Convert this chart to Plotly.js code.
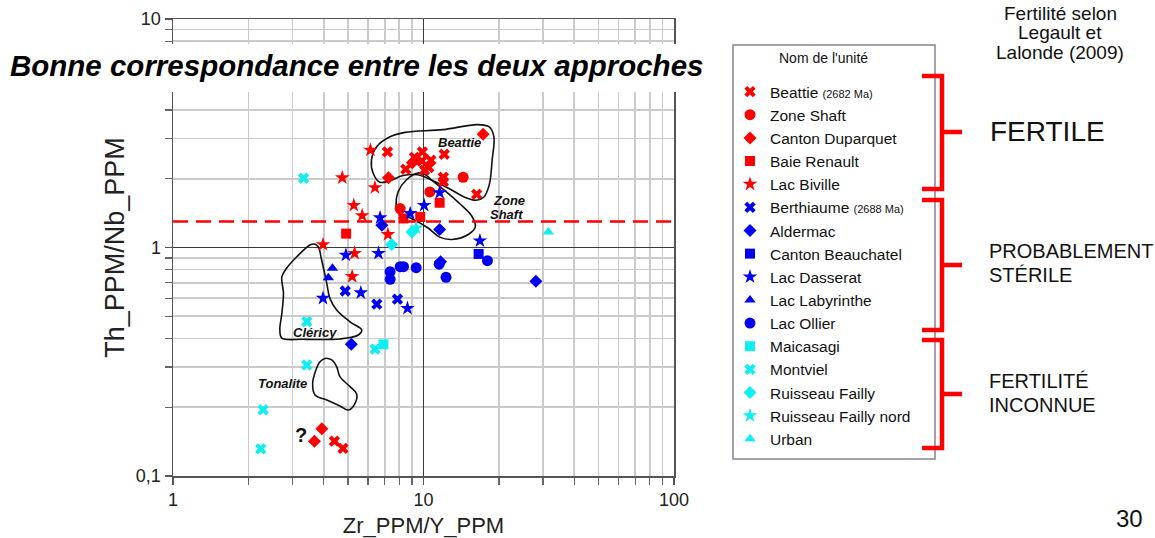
<!DOCTYPE html>
<html>
<head>
<meta charset="utf-8">
<script src="https://cdn.plot.ly/plotly-3.0.1.min.js"></script>
<style>
  html, body { margin: 0; padding: 0; background: #fff; }
  #chart { width: 1155px; height: 538px; }
</style>
</head>
<body>
<div id="chart"></div>
<script>
// Th/Nb versus Zr/Y ratios of intrusive units, grouped by fertility class.

// ---- FERTILE units (red) ----
const beattieX = [7.18, 9.9, 9.2, 10.7, 9.85, 8.5, 10.5, 10.1, 12.1, 12.0, 12.0, 16.3, 4.41, 4.77];
const beattieY = [2.62, 2.62, 2.48, 2.41, 2.39, 2.20, 2.24, 2.18, 2.56, 2.03, 1.94, 1.71, 0.142, 0.132];
const zoneShaftX = [14.4, 10.6, 8.07];
const zoneShaftY = [2.03, 1.75, 1.48];
const cantonDuparquetX = [17.3, 7.25, 9.03, 3.93, 3.67];
const cantonDuparquetY = [3.13, 2.02, 2.35, 0.161, 0.142];
const baieRenaultX = [4.91, 8.32, 9.70, 11.6];
const baieRenaultY = [1.15, 1.34, 1.36, 1.57];
const lacBivilleX = [6.14, 4.74, 6.40, 5.27, 5.69, 7.21, 3.97, 5.31, 5.19];
const lacBivilleY = [2.67, 2.02, 1.83, 1.53, 1.38, 1.14, 1.03, 0.943, 0.747];

// ---- PROBABLEMENT STÉRILE units (blue) ----
const berthiaumeX = [4.87, 6.51, 7.87];
const berthiaumeY = [0.645, 0.565, 0.594];
const aldermacX = [6.82, 11.6, 5.15, 28.1, 11.7];
const aldermacY = [1.25, 1.20, 0.377, 0.711, 0.867];
const cantonBeauchatelX = [16.6];
const cantonBeauchatelY = [0.937];
const lacDasseratX = [6.71, 8.85, 10.06, 11.6, 16.8, 4.90, 6.61, 5.62, 3.97, 8.63];
const lacDasseratY = [1.35, 1.41, 1.53, 1.74, 1.07, 0.927, 0.943, 0.634, 0.600, 0.542];
const lacLabyrintheX = [4.33, 4.17];
const lacLabyrintheY = [0.811, 0.738];
const lacOllierX = [7.36, 7.36, 8.07, 8.32, 9.35, 11.55, 12.3, 18.0];
const lacOllierY = [0.784, 0.726, 0.824, 0.824, 0.816, 0.845, 0.741, 0.876];

// ---- FERTILITÉ INCONNUE units (cyan) ----
const maicasagiX = [6.92];
const maicasagiY = [0.377];
const montvielX = [3.32, 3.42, 3.42, 2.29, 2.24, 6.41];
const montvielY = [2.01, 0.474, 0.306, 0.195, 0.1315, 0.359];
const ruisseauFaillyX = [7.46, 8.99];
const ruisseauFaillyY = [1.03, 1.17];
const ruisseauFaillyNordX = [9.35];
const ruisseauFaillyNordY = [1.22];
const urbanX = [31.5];
const urbanY = [1.17];

// Th/Nb fertility threshold
const thresholdY = 1.3;
const thresholdX = [1, 100];

// Reference field outlines (Zr/Y, Th/Nb vertices)
const beattieFieldX = [6.50, 7.35, 8.44, 11.97, 16.4, 18.3, 19.1, 18.8, 18.3, 17.4, 16.2, 14.6, 12.8, 10.8, 9.51, 8.21, 7.35, 6.70, 6.29, 6.20, 6.50];
const beattieFieldY = [2.76, 3.05, 3.19, 3.28, 3.45, 3.37, 3.05, 2.42, 1.88, 1.66, 1.61, 1.66, 1.80, 1.97, 2.08, 2.06, 1.96, 1.93, 2.12, 2.42, 2.76];
const zoneShaftFieldX = [7.77, 7.91, 8.51, 9.51, 10.2, 10.9, 12.2, 14.0, 15.6, 16.1, 15.2, 13.0, 11.6, 10.4, 8.83, 7.91, 7.77];
const zoneShaftFieldY = [1.53, 1.75, 1.97, 2.12, 2.08, 1.95, 1.77, 1.55, 1.37, 1.23, 1.146, 1.084, 1.11, 1.22, 1.35, 1.42, 1.53];
const clericyFieldX = [3.66, 3.80, 3.92, 4.11, 4.23, 4.50, 5.09, 5.67, 5.49, 4.64, 3.31, 2.72, 2.67, 2.72, 2.76, 2.72, 2.84, 3.12, 3.52, 3.66];
const clericyFieldY = [1.036, 1.008, 0.882, 0.697, 0.599, 0.533, 0.473, 0.4355, 0.414, 0.398, 0.3965, 0.401, 0.4355, 0.515, 0.630, 0.745, 0.811, 0.911, 1.025, 1.036];
const tonaliteFieldX = [4.05, 4.30, 4.50, 4.64, 5.09, 5.41, 5.33, 5.01, 4.64, 4.11, 3.69, 3.61, 3.72, 3.86, 4.05];
const tonaliteFieldY = [0.327, 0.322, 0.301, 0.272, 0.246, 0.2285, 0.208, 0.1945, 0.2025, 0.215, 0.226, 0.2544, 0.291, 0.316, 0.327];

// Axis tick labels
const xTickVals = [1, 10, 100];
const xTickText = ['1', '10', '100'];
const yTickVals = [0.1, 1, 10];
const yTickText = ['0,1', '1', '10'];

const RED = '#ff0000', BLUE = '#0000f0', CYAN = '#10eef2';
const FONT = 'Liberation Sans, Arial, Helvetica, sans-serif';
const small = t => '<span style="font-size:11px">' + t + '</span>';

const units = [
  { name: 'Beattie ' + small('(2682 Ma)'), x: beattieX, y: beattieY, color: RED, symbol: 'x', size: 10 },
  { name: 'Zone Shaft', x: zoneShaftX, y: zoneShaftY, color: RED, symbol: 'circle', size: 11 },
  { name: 'Canton Duparquet', x: cantonDuparquetX, y: cantonDuparquetY, color: RED, symbol: 'diamond', size: 10 },
  { name: 'Baie Renault', x: baieRenaultX, y: baieRenaultY, color: RED, symbol: 'square', size: 10 },
  { name: 'Lac Biville', x: lacBivilleX, y: lacBivilleY, color: RED, symbol: 'star', size: 11 },
  { name: 'Berthiaume ' + small('(2688 Ma)'), x: berthiaumeX, y: berthiaumeY, color: BLUE, symbol: 'x', size: 10 },
  { name: 'Aldermac', x: aldermacX, y: aldermacY, color: BLUE, symbol: 'diamond', size: 10 },
  { name: 'Canton Beauchatel', x: cantonBeauchatelX, y: cantonBeauchatelY, color: BLUE, symbol: 'square', size: 10 },
  { name: 'Lac Dasserat', x: lacDasseratX, y: lacDasseratY, color: BLUE, symbol: 'star', size: 11 },
  { name: 'Lac Labyrinthe', x: lacLabyrintheX, y: lacLabyrintheY, color: BLUE, symbol: 'triangle-up', size: 10 },
  { name: 'Lac Ollier', x: lacOllierX, y: lacOllierY, color: BLUE, symbol: 'circle', size: 11 },
  { name: 'Maicasagi', x: maicasagiX, y: maicasagiY, color: CYAN, symbol: 'square', size: 10 },
  { name: 'Montviel', x: montvielX, y: montvielY, color: CYAN, symbol: 'x', size: 10 },
  { name: 'Ruisseau Failly', x: ruisseauFaillyX, y: ruisseauFaillyY, color: CYAN, symbol: 'diamond', size: 10 },
  { name: 'Ruisseau Failly nord', x: ruisseauFaillyNordX, y: ruisseauFaillyNordY, color: CYAN, symbol: 'star', size: 11 },
  { name: 'Urban', x: urbanX, y: urbanY, color: CYAN, symbol: 'triangle-up', size: 10 }
];

const fields = [
  [beattieFieldX, beattieFieldY],
  [zoneShaftFieldX, zoneShaftFieldY],
  [clericyFieldX, clericyFieldY],
  [tonaliteFieldX, tonaliteFieldY]
];

const traces = [];
fields.forEach(([fx, fy]) => traces.push({
  type: 'scatter', mode: 'lines', x: fx, y: fy, showlegend: false, hoverinfo: 'skip',
  line: { color: '#111', width: 1.6, shape: 'spline', smoothing: 1 }
}));
traces.push({
  type: 'scatter', mode: 'lines', x: thresholdX, y: [thresholdY, thresholdY],
  showlegend: false, hoverinfo: 'skip',
  line: { color: RED, width: 2.6, dash: '15px,8px' }
});
units.forEach(u => traces.push({
  type: 'scatter', mode: 'markers', name: u.name, x: u.x, y: u.y,
  marker: { color: u.color, symbol: u.symbol, size: u.size, line: { width: 0 } }
}));

const axisBase = {
  type: 'log', showline: true, mirror: true, linecolor: '#555', linewidth: 1.5,
  ticks: 'outside', ticklen: 7, tickcolor: '#555', tickwidth: 1.2,
  showgrid: true, gridcolor: '#3a3a3a', gridwidth: 1.5, zeroline: false,
  minor: { dtick: 'D1', ticks: 'outside', ticklen: 7, tickcolor: '#666', tickwidth: 1.2,
           showgrid: true, gridcolor: '#cbcbcb', gridwidth: 1.7 },
  tickmode: 'array', tickfont: { family: FONT, size: 18, color: '#222' }
};

// paper-coordinate helpers for decorations around the plot
const L = 173, T = 19, W = 501, H = 457;
const px = v => (v - L) / W;
const py = v => (T + H - v) / H;

const bracket = (top, bottom, mid) =>
  'M' + px(922) + ',' + py(top) + ' L' + px(942) + ',' + py(top) + ' L' + px(942) + ',' + py(bottom) +
  ' L' + px(922) + ',' + py(bottom) + ' M' + px(942) + ',' + py(mid) + ' L' + px(962) + ',' + py(mid);

const ann = (text, x, y, size, opts) => Object.assign({
  text, x: px(x), y: py(y), xref: 'paper', yref: 'paper', showarrow: false,
  xanchor: 'center', yanchor: 'middle', font: { family: FONT, size, color: '#111' }
}, opts || {});

const layout = {
  width: 1155, height: 538,
  margin: { l: L, r: 1155 - L - W, t: T, b: 538 - T - H },
  paper_bgcolor: '#fff', plot_bgcolor: '#fff',
  separators: ', ',
  font: { family: FONT, color: '#111' },
  xaxis: Object.assign({}, axisBase, {
    range: [0, 2], tickvals: xTickVals, ticktext: xTickText,
    title: { text: 'Zr_PPM/Y_PPM', font: { family: FONT, size: 22, color: '#222' }, standoff: 17 }
  }),
  yaxis: Object.assign({}, axisBase, {
    range: [-1, 1], tickvals: yTickVals, ticktext: yTickText,
    title: { text: 'Th_PPM/Nb_PPM', font: { family: FONT, size: 27, color: '#222' }, standoff: 3 }
  }),
  showlegend: true,
  legend: {
    x: px(730), y: py(75), xanchor: 'left', yanchor: 'top',
    bgcolor: 'rgba(0,0,0,0)', borderwidth: 0,
    font: { family: FONT, size: 15.5, color: '#111' }
  },
  shapes: [
    // white band behind the headline
    { type: 'rect', xref: 'paper', yref: 'paper', layer: 'above',
      x0: px(0), x1: px(716), y0: py(92), y1: py(44), fillcolor: '#fff', line: { width: 0 } },
    // legend frame
    { type: 'rect', xref: 'paper', yref: 'paper', x0: px(733), x1: px(935), y0: py(459), y1: py(45),
      line: { color: '#8c7f99', width: 1.5 }, fillcolor: 'rgba(0,0,0,0)' },
    // fertility brackets
    { type: 'path', xref: 'paper', yref: 'paper', path: bracket(76, 189, 132), line: { color: RED, width: 4.5 } },
    { type: 'path', xref: 'paper', yref: 'paper', path: bracket(200, 330, 265), line: { color: RED, width: 4.5 } },
    { type: 'path', xref: 'paper', yref: 'paper', path: bracket(340, 448, 394), line: { color: RED, width: 4.5 } }
  ],
  annotations: [
    ann('<b><i>Bonne correspondance entre les deux approches</i></b>', 356, 65, 29.5, { font: { family: FONT, size: 29.5, color: '#000' } }),
    ann('<b><i>Beattie</i></b>', 459, 142, 13),
    ann('<b><i>Zone</i></b>', 509, 200, 13),
    ann('<b><i>Shaft</i></b>', 506, 215, 13),
    ann('<b><i>Cléricy</i></b>', 315, 332, 13),
    ann('<b><i>Tonalite</i></b>', 282, 384, 13),
    ann('<b>?</b>', 301, 435, 20),
    ann("Nom de l'unité", 823, 58, 14),
    ann('Fertilité selon', 1060, 14, 19, { borderpad: 0 }),
    ann('Legault et', 1060, 33, 19, { borderpad: 0 }),
    ann('Lalonde (2009)', 1060, 52, 19, { borderpad: 0 }),
    ann('FERTILE', 988, 131, 28, { xanchor: 'left' }),
    ann('PROBABLEMENT', 987, 251, 20, { xanchor: 'left' }),
    ann('STÉRILE', 987, 275, 20, { xanchor: 'left' }),
    ann('FERTILITÉ', 987, 381, 20, { xanchor: 'left' }),
    ann('INCONNUE', 987, 405, 20, { xanchor: 'left' }),
    ann('30', 1129, 518, 24)
  ]
};

Plotly.newPlot('chart', traces, layout, { staticPlot: true, displayModeBar: false });
</script>
</body>
</html>
